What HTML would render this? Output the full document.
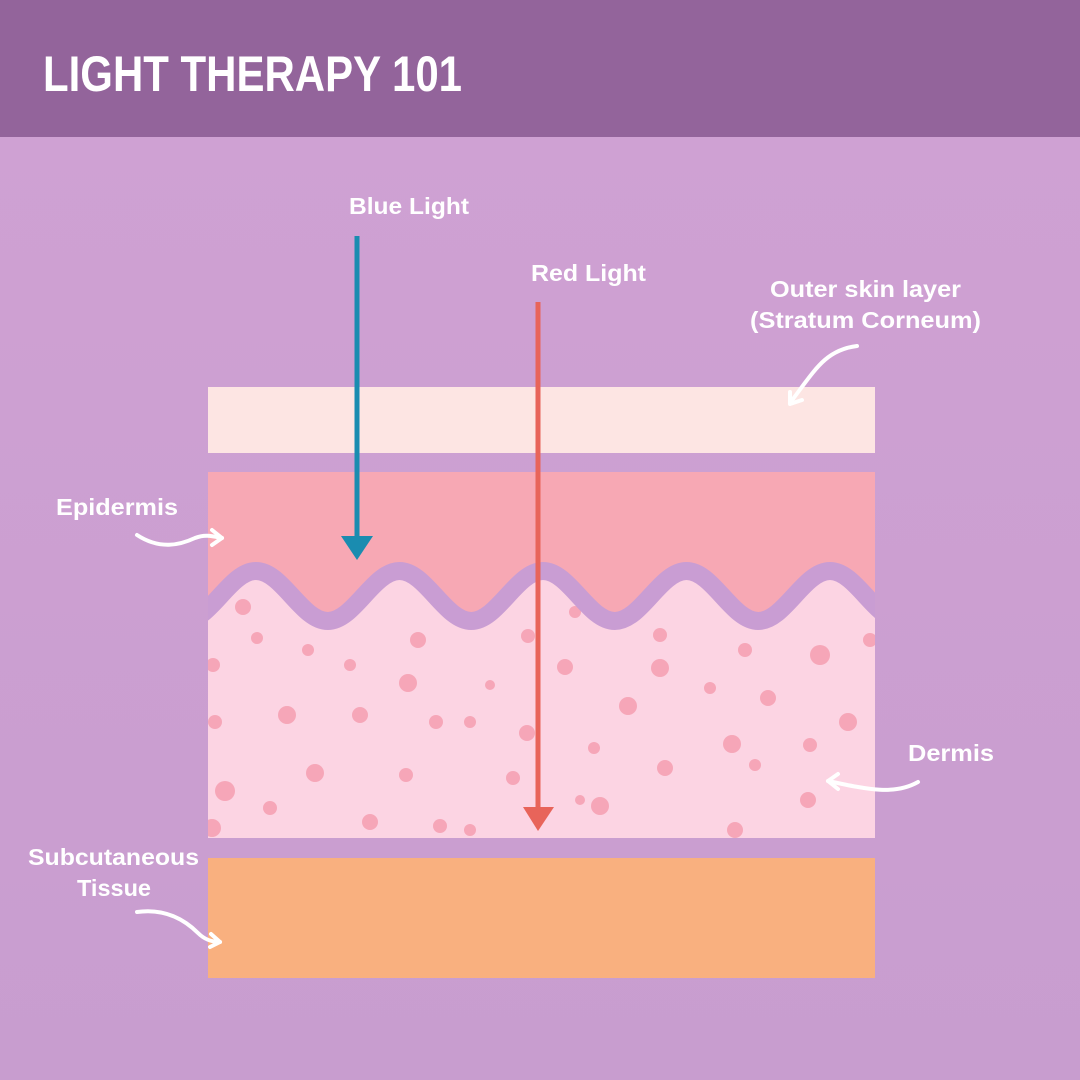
<!DOCTYPE html>
<html><head><meta charset="utf-8"><style>
html,body{margin:0;padding:0;width:1080px;height:1080px;overflow:hidden;background:#c99dd0}
svg{display:block}
text{font-family:"Liberation Sans",sans-serif;fill:#fff;font-weight:bold}
</style></head><body>
<svg width="1080" height="1080" viewBox="0 0 1080 1080" xmlns="http://www.w3.org/2000/svg">
<defs>
<clipPath id="c"><rect x="208" y="472" width="667" height="366"/></clipPath>
<linearGradient id="bg" x1="0" y1="0" x2="0" y2="1">
<stop offset="0" stop-color="#cfa1d3"/><stop offset="1" stop-color="#c89dcf"/></linearGradient>
</defs>
<rect x="0" y="136" width="1080" height="944" fill="url(#bg)"/>
<rect x="0" y="0" width="1080" height="137" fill="#93649b"/>
<text x="43" y="91" font-size="50" textLength="419" lengthAdjust="spacingAndGlyphs">LIGHT THERAPY 101</text>

<rect x="208" y="387" width="667" height="66" fill="#fde5e3"/>
<g clip-path="url(#c)">
<rect x="208" y="472" width="667" height="366" fill="#fcd4e3"/>
<g fill="#f6a6b8">
<circle cx="243" cy="607" r="8"/><circle cx="257" cy="638" r="6"/><circle cx="213" cy="665" r="7"/><circle cx="287" cy="715" r="9"/><circle cx="360" cy="715" r="8"/><circle cx="408" cy="683" r="9"/><circle cx="436" cy="722" r="7"/><circle cx="350" cy="665" r="6"/><circle cx="215" cy="722" r="7"/><circle cx="315" cy="773" r="9"/><circle cx="225" cy="791" r="10"/><circle cx="270" cy="808" r="7"/><circle cx="370" cy="822" r="8"/><circle cx="406" cy="775" r="7"/><circle cx="440" cy="826" r="7"/><circle cx="470" cy="830" r="6"/><circle cx="490" cy="685" r="5"/><circle cx="527" cy="733" r="8"/><circle cx="513" cy="778" r="7"/><circle cx="528" cy="636" r="7"/><circle cx="565" cy="667" r="8"/><circle cx="575" cy="612" r="6"/><circle cx="628" cy="706" r="9"/><circle cx="660" cy="668" r="9"/><circle cx="594" cy="748" r="6"/><circle cx="600" cy="806" r="9"/><circle cx="660" cy="635" r="7"/><circle cx="710" cy="688" r="6"/><circle cx="745" cy="650" r="7"/><circle cx="768" cy="698" r="8"/><circle cx="665" cy="768" r="8"/><circle cx="732" cy="744" r="9"/><circle cx="820" cy="655" r="10"/><circle cx="808" cy="800" r="8"/><circle cx="848" cy="722" r="9"/><circle cx="755" cy="765" r="6"/><circle cx="735" cy="830" r="8"/><circle cx="470" cy="722" r="6"/><circle cx="418" cy="640" r="8"/><circle cx="308" cy="650" r="6"/><circle cx="810" cy="745" r="7"/><circle cx="870" cy="640" r="7"/><circle cx="580" cy="800" r="5"/><circle cx="212" cy="828" r="9"/></g>
<path fill="#f7a8b4" d="M184,472 L184.25,621 C210.38,621 229.87,571 256,571 C282.13,571 301.62,621 327.75,621 C353.88,621 373.37,571 399.5,571 C425.63,571 445.12,621 471.25,621 C497.38,621 516.87,571 543,571 C569.13,571 588.62,621 614.75,621 C640.88,621 660.37,571 686.5,571 C712.63,571 732.12,621 758.25,621 C784.38,621 803.87,571 830,571 C856.13,571 875.62,621 901.75,621 L902,472 Z"/>
<path fill="none" stroke="#c99dd3" stroke-width="18" d="M184.25,621 C210.38,621 229.87,571 256,571 C282.13,571 301.62,621 327.75,621 C353.88,621 373.37,571 399.5,571 C425.63,571 445.12,621 471.25,621 C497.38,621 516.87,571 543,571 C569.13,571 588.62,621 614.75,621 C640.88,621 660.37,571 686.5,571 C712.63,571 732.12,621 758.25,621 C784.38,621 803.87,571 830,571 C856.13,571 875.62,621 901.75,621"/>
</g>
<rect x="208" y="858" width="667" height="120" fill="#f9b07f"/>

<line x1="357" y1="236" x2="357" y2="540" stroke="#1a8cb0" stroke-width="5"/>
<polygon points="341,536 373,536 357,560" fill="#1a8cb0"/>
<line x1="538" y1="302" x2="538" y2="812" stroke="#e8645a" stroke-width="5"/>
<polygon points="523,807 554,807 538,831" fill="#e8645a"/>

<g font-size="23">
<text x="349" y="214" textLength="120" lengthAdjust="spacingAndGlyphs">Blue Light</text>
<text x="531" y="281" textLength="115" lengthAdjust="spacingAndGlyphs">Red Light</text>
<text x="770" y="297" textLength="191" lengthAdjust="spacingAndGlyphs">Outer skin layer</text>
<text x="750" y="328" textLength="231" lengthAdjust="spacingAndGlyphs">(Stratum Corneum)</text>
<text x="56" y="515" textLength="122" lengthAdjust="spacingAndGlyphs">Epidermis</text>
<text x="908" y="761" textLength="86" lengthAdjust="spacingAndGlyphs">Dermis</text>
<text x="28" y="865" textLength="171" lengthAdjust="spacingAndGlyphs">Subcutaneous</text>
<text x="77" y="896" textLength="74" lengthAdjust="spacingAndGlyphs">Tissue</text>
</g>

<g fill="none" stroke="#fff" stroke-width="4" stroke-linecap="round" stroke-linejoin="round">
<path d="M857,346 C825,350 815,370 790,403"/><path d="M790,392 L790,404 L802,400"/>
<path d="M137,535 C160,550 180,545 195,538 C205,534 212,536 222,538"/><path d="M212,530 L222,538 L212,545"/>
<path d="M918,782 C895,795 870,790 828,781"/><path d="M838,774 L828,781 L838,789"/>
<path d="M137,912 C165,908 185,920 198,933 C205,940 212,942 220,942"/><path d="M211,934 L220,942 L210,947"/>
</g>
</svg>
</body></html>
